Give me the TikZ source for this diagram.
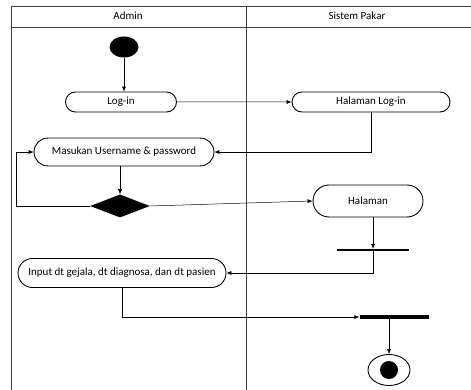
\documentclass[tikz,border=0pt]{standalone}
\usepackage{fontspec}
\setmainfont{Carlito}
\usetikzlibrary{positioning,arrows.meta,shapes.misc,shapes.geometric}

\begin{document}
\begin{tikzpicture}[
    x=1pt, y=-1pt,
    >={Latex[length=5pt,width=4pt]},
    font=\fontsize{11}{13}\selectfont,
    line width=0.5pt,
    act/.style={rounded rectangle, draw=black, line width=0.9pt, minimum height=20pt, inner sep=2pt},
    bar/.style={fill=black, inner sep=0pt, minimum height=2pt},
    lane/.style={draw=black!75, line width=0.7pt},
  ]
    \useasboundingbox (0,0) rectangle (471,390);

    % ---------- swimlanes ----------
    \draw[lane] (11,6) -- (471,6);
    \draw[lane] (11,27) -- (471,27);
    \draw[lane] (11,6) -- (11,390);
    \draw[lane] (246,6) -- (246,390);
    \node (hadmin) at (128,16) {Admin};
    \node (hsistem) at (357,16) {Sistem Pakar};

    % ---------- admin ----------
    \node[ellipse, fill=black, minimum width=29pt, minimum height=21pt, inner sep=0pt] (start) at (124,47) {};
    \node[act, minimum width=115pt] (login) at (121,102) {Log-in};
    \node[act, minimum width=184pt, minimum height=28pt] (masuk) at (124,152) {Masukan Username \& password};
    \node[diamond, fill=black, minimum width=60pt, minimum height=23pt, inner sep=0pt] (dec) at (120,206) {};
    \node[act, minimum width=212pt, minimum height=29pt] (inp) at (122,273) {Input dt gejala, dt diagnosa, dan dt pasien};

    % ---------- sistem pakar ----------
    \node[act, minimum width=162pt] (hlogin) at (371,102) {Halaman Log-in};
    \node[act, minimum width=114pt, minimum height=32pt] (hal) at (368,201) {Halaman};
    \node[bar, minimum width=72pt] (bar1) at (373,250) {};
    \node[bar, minimum width=69pt, minimum height=3.5pt] (bar2) at (394,317) {};
    \node[ellipse, draw=black, line width=0.9pt, minimum width=42pt, minimum height=31pt, inner sep=0pt] (stop) at (389,370) {};
    \node[circle, fill=black, minimum size=18pt, inner sep=0pt] (stopin) at (stop) {};

    % ---------- flow ----------
    \coordinate (loop) at (16,206);
    \draw[->] (start) -- (start |- login.north);
    \draw[->] (login) -- (hlogin);
    \draw[->] (hlogin.south) |- (masuk.east);
    \draw[->] (dec |- masuk.south) -- (dec.north);
    \draw[->] (dec.west) -- (loop) |- (masuk.west);
    \draw[->] (dec.east) -- (hal.west);
    \draw[->] (hal.south -| bar1) -- (bar1.north);
    \draw[->] (bar1.south) |- (inp.east);
    \draw[->] (inp.south) |- (bar2.west);
    \draw[->] (bar2.south -| stop) -- (stop.north);
  \end{tikzpicture}
\end{document}
